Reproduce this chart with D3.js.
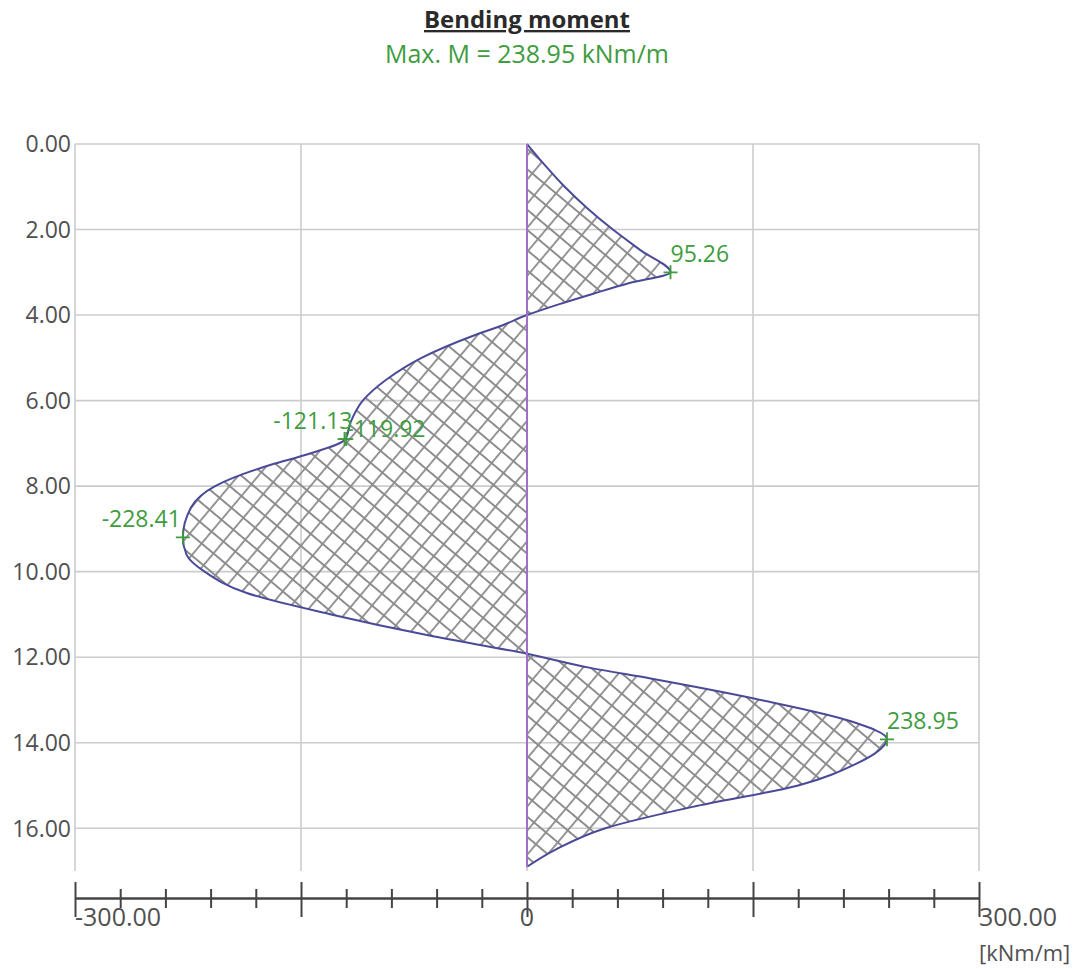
<!DOCTYPE html>
<html>
<head>
<meta charset="utf-8">
<script src="https://cdn.jsdelivr.net/npm/d3@7"></script>
<style>
  html, body { margin: 0; padding: 0; background: #fff; }
  svg { display: block; }
  text { font-family: "Open Sans", "Noto Sans", sans-serif; }
</style>
</head>
<body>
<svg id="chart" width="1086" height="969"></svg>
<script>
// ---- data ----
const title = "Bending moment";
const subtitle = "Max. M = 238.95 kNm/m";
const unitLabel = "[kNm/m]";

const depths  = [0, 0.5, 1, 1.5, 2, 2.5, 3.0, 3.25, 3.5, 3.75, 4.0, 4.25, 4.5, 5.0, 5.5, 6.0, 6.5, 6.9, 7.25, 7.5, 8.0, 8.5, 9.2, 9.6, 10.0, 10.5, 11.0, 11.5, 11.92, 12.25, 12.5, 13.0, 13.5, 13.92, 14.25, 14.5, 15.0, 15.5, 16.0, 16.5, 16.9];
const moments = [0, 12, 25, 40, 57, 76, 95.26, 68, 44, 21, 0, -17, -37, -70, -93, -109, -117, -120.5, -145, -170, -207, -223, -228.41, -226, -214, -186, -130, -64, 0, 42, 82, 155, 215, 238.95, 231, 218, 180, 110, 52, 19, 0];

const annotDepths = [3.0, 6.9, 6.9, 9.2, 13.92];
const annotValues = [95.26, -121.13, -119.92, -228.41, 238.95];
const annotLabels = ["95.26", "-121.13", "-119.92", "-228.41", "238.95"];
const annotSide   = ["start", "end", "start", "end", "start"];

const yTicks = [0, 2, 4, 6, 8, 10, 12, 14, 16];
const xGridTicks = [-300, -150, 0, 150, 300];
const xAxisTicks = d3.range(-300, 301, 30);
const xLabelTicks = [-300, 0, 300];
const xLabelText = ["-300.00", "0", "300.00"];

// ---- layout ----
const svg = d3.select("#chart");
const x = d3.scaleLinear().domain([-300, 300]).range([75, 979]);
const y = d3.scaleLinear().domain([0, 17]).range([144, 871]);
const green = "#3f9c3f";
const gridColor = "#cccccc";
const labelColor = "#505050";

// hatch pattern
const defs = svg.append("defs");
const pat = defs.append("pattern")
  .attr("id", "hatch")
  .attr("patternUnits", "userSpaceOnUse")
  .attr("width", 15.5).attr("height", 15.5)
  .attr("patternTransform", "rotate(40)");
pat.append("path")
  .attr("d", "M0,7.75H15.5M7.75,0V15.5")
  .attr("stroke", "#8c8c8c").attr("stroke-width", 1.8).attr("fill", "none");

// title
svg.append("text")
  .attr("x", x(0)).attr("y", 28)
  .attr("text-anchor", "middle")
  .attr("font-size", 23.5).attr("font-weight", "bold")
  .attr("fill", "#2a2a2a")
  .attr("text-decoration", "underline")
  .attr("textLength", 206).attr("lengthAdjust", "spacingAndGlyphs")
  .text(title);
svg.append("text")
  .attr("x", x(0)).attr("y", 63)
  .attr("text-anchor", "middle")
  .attr("font-size", 25)
  .attr("fill", green)
  .attr("textLength", 284).attr("lengthAdjust", "spacingAndGlyphs")
  .text(subtitle);

// grid
const grid = svg.append("g");
grid.selectAll("line.h").data(yTicks).join("line")
  .attr("class", "h")
  .attr("x1", x(-300)).attr("x2", x(300))
  .attr("y1", d => y(d)).attr("y2", d => y(d))
  .attr("stroke", gridColor).attr("stroke-width", 1.6);
grid.selectAll("line.v").data(xGridTicks).join("line")
  .attr("class", "v")
  .attr("x1", d => x(d)).attr("x2", d => x(d))
  .attr("y1", y(0)).attr("y2", y(17))
  .attr("stroke", gridColor).attr("stroke-width", 1.6);

// y labels
svg.append("g").selectAll("text").data(yTicks).join("text")
  .attr("x", 71).attr("y", d => y(d))
  .attr("dy", "0.36em")
  .attr("text-anchor", "end")
  .attr("font-size", 23)
  .attr("fill", labelColor)
  .text(d => d.toFixed(2));

// area + outline
const pts = depths.map((d, i) => ({ d, m: moments[i] }));
svg.append("path")
  .datum(pts)
  .attr("d", d3.area()
    .y(p => y(p.d))
    .x0(x(0))
    .x1(p => x(p.m))
    .curve(d3.curveMonotoneY))
  .attr("fill", "url(#hatch)");
svg.append("path")
  .datum(pts)
  .attr("d", d3.line()
    .y(p => y(p.d))
    .x(p => x(p.m))
    .curve(d3.curveMonotoneY))
  .attr("fill", "none")
  .attr("stroke", "#4a4a98").attr("stroke-width", 2);

// zero line
svg.append("line")
  .attr("x1", x(0)).attr("x2", x(0))
  .attr("y1", y(depths[0])).attr("y2", y(depths[depths.length - 1]))
  .attr("stroke", "#a070c8").attr("stroke-width", 2);

// annotations
const ann = svg.append("g");
annotValues.forEach((v, i) => {
  const cx = x(v), cy = y(annotDepths[i]);
  ann.append("path")
    .attr("d", `M${cx - 7},${cy}H${cx + 7}M${cx},${cy - 7}V${cy + 7}`)
    .attr("stroke", green).attr("stroke-width", 1.8);
});
ann.selectAll("text").data(annotLabels).join("text")
  .attr("x", (d, i) => x(annotValues[i]) + (annotSide[i] === "end" ? (i === 1 ? 8 : -2) : 0))
  .attr("y", (d, i) => y(annotDepths[i]) + (i === 2 ? -2 : -10))
  .attr("text-anchor", (d, i) => annotSide[i])
  .attr("font-size", 23)
  .attr("fill", green)
  .text(d => d);

// x axis
const axisG = svg.append("g")
  .attr("transform", `translate(0,898)`)
  .call(d3.axisBottom(x).tickValues(xAxisTicks).tickSizeOuter(0).tickFormat(""));
axisG.select(".domain").attr("stroke", "#444").attr("stroke-width", 2.4);
axisG.selectAll(".tick line")
  .attr("stroke", "#444").attr("stroke-width", 2)
  .attr("y1", d => (d % 150 === 0 ? -16 : -9))
  .attr("y2", d => (d % 150 === 0 ? 19 : 10));

svg.append("g").selectAll("text").data(xLabelTicks).join("text")
  .attr("x", d => x(d))
  .attr("y", 926)
  .attr("text-anchor", d => (d === 0 ? "middle" : "start"))
  .attr("font-size", 25)
  .attr("fill", labelColor)
  .text((d, i) => xLabelText[i]);

svg.append("text")
  .attr("x", x(300)).attr("y", 961)
  .attr("font-size", 22)
  .attr("fill", labelColor)
  .text(unitLabel);
</script>
</body>
</html>
